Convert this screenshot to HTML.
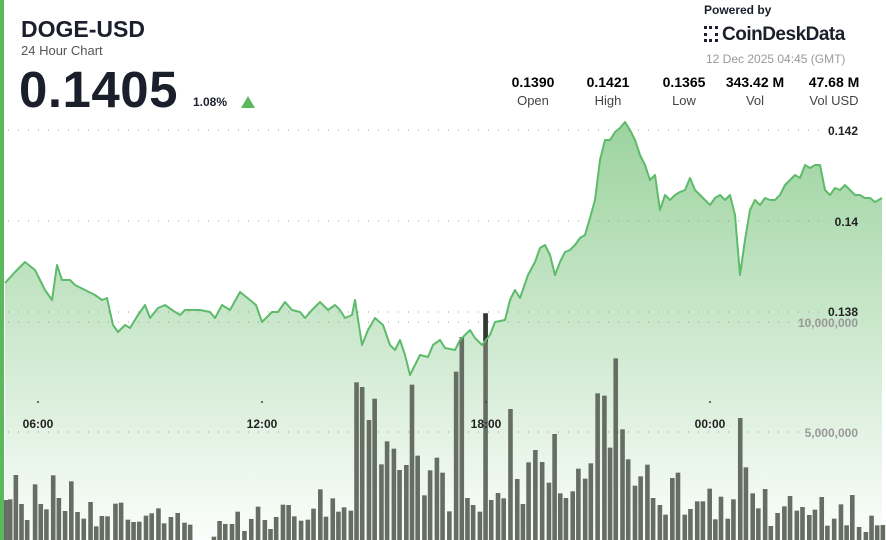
<!DOCTYPE html>
<html><head><meta charset="utf-8"><style>
body{margin:0;width:886px;height:540px;overflow:hidden;background:#fff;font-family:"Liberation Sans",sans-serif;position:relative}
.t{position:absolute;white-space:nowrap;color:#1a1f2b}
.s{text-align:center;position:absolute;width:60px}
</style></head><body>
<svg id="c" width="886" height="540" style="position:absolute;left:0;top:0"></svg>
<div style="position:absolute;left:0;top:0;width:4px;height:540px;background:#5cb85c"></div>
<div class="t" style="left:21px;top:16px;font-size:23px;font-weight:bold">DOGE-USD</div>
<div class="t" style="left:21px;top:43px;font-size:13px;color:#555">24 Hour Chart</div>
<div class="t" style="left:19px;top:60px;font-size:51px;font-weight:bold;letter-spacing:0.5px">0.1405</div>
<div class="t" style="left:193px;top:95px;font-size:12px;font-weight:bold">1.08%</div>
<div style="position:absolute;left:241px;top:96px;width:0;height:0;border-left:7px solid transparent;border-right:7px solid transparent;border-bottom:12px solid #5cb85c"></div>
<div class="t" style="left:704px;top:3px;font-size:12px;font-weight:bold">Powered by</div>
<div class="t" style="left:704px;top:24px;font-size:19px;font-weight:bold;letter-spacing:-0.5px"><span style="display:inline-block;width:14px;height:16px;border:3px dotted #1a1f2b;box-sizing:border-box;margin-right:4px;vertical-align:-2px"></span>CoinDeskData</div>
<div class="t" style="left:706px;top:52px;font-size:12px;color:#999">12 Dec 2025 04:45 (GMT)</div>
<div class="s" style="left:503px;top:74px"><div style="font-size:14px;font-weight:bold">0.1390</div><div style="font-size:13px;color:#444;margin-top:3px">Open</div></div>
<div class="s" style="left:578px;top:74px"><div style="font-size:14px;font-weight:bold">0.1421</div><div style="font-size:13px;color:#444;margin-top:3px">High</div></div>
<div class="s" style="left:654px;top:74px"><div style="font-size:14px;font-weight:bold">0.1365</div><div style="font-size:13px;color:#444;margin-top:3px">Low</div></div>
<div class="s" style="left:715px;top:74px;width:80px"><div style="font-size:14px;font-weight:bold">343.42 M</div><div style="font-size:13px;color:#444;margin-top:3px">Vol</div></div>
<div class="s" style="left:794px;top:74px;width:80px"><div style="font-size:14px;font-weight:bold">47.68 M</div><div style="font-size:13px;color:#444;margin-top:3px">Vol USD</div></div>
<script>
var ns="http://www.w3.org/2000/svg",svg=document.getElementById('c');
function el(n,a,p){var e=document.createElementNS(ns,n);for(var k in a)e.setAttribute(k,a[k]);(p||svg).appendChild(e);return e;}
var defs=el('defs',{});
var g=el('linearGradient',{id:'g',x1:0,y1:0,x2:0,y2:1},defs);
el('stop',{offset:'0','stop-color':'#4caf50','stop-opacity':'0.55'},g);
el('stop',{offset:'1','stop-color':'#4caf50','stop-opacity':'0.02'},g);
var pts=[5,283,15,272,25,262,35,270,45,290,52,300,57,265,62,280,70,280,75,285,85,290,95,295,102,300,107,298,113,325,118,332,125,325,130,328,138,315,145,305,150,318,158,308,165,305,172,310,180,315,185,310,200,310,210,312,215,318,222,305,230,310,240,292,250,300,256,305,262,322,272,312,278,312,285,302,292,310,300,312,305,318,312,310,320,302,328,310,335,305,340,310,345,318,352,315,355,300,362,345,368,330,375,318,383,325,390,345,395,350,400,340,405,355,410,375,415,365,420,355,428,357,433,345,440,340,445,348,455,350,460,340,465,335,470,330,475,338,482,345,490,335,495,322,505,320,510,300,515,290,520,298,528,275,535,262,540,248,545,245,550,255,555,275,560,262,565,252,570,250,575,245,580,238,585,235,590,218,595,200,600,160,605,140,610,140,615,132,620,128,625,122,630,130,635,140,640,155,645,165,650,180,655,175,660,210,665,195,670,200,675,195,680,192,685,190,690,178,695,190,700,195,705,200,710,205,715,198,720,195,725,200,730,195,735,215,740,275,745,240,750,210,755,200,760,205,765,198,770,200,775,200,780,195,785,185,790,180,795,175,800,178,805,165,810,168,815,165,820,165,825,190,830,195,835,188,840,190,845,185,850,190,855,195,860,195,865,198,870,198,875,202,882,198];
var d='';for(var i=0;i<pts.length;i+=2)d+=(i?'L':'M')+pts[i]+','+pts[i+1];
el('path',{d:d+'L882,540L5,540Z',fill:'url(#g)'});
[130,221,312,322,432].forEach(function(y){el('line',{x1:8,x2:820,y1:y,y2:y,stroke:'#999','stroke-width':1,'stroke-dasharray':'1 9'});});
var B=[10,750,18,748,28,675,38,762,48,810,62,703,72,762,82,778,94,676,104,744,115,783,126,694,137,786,148,806,160,756,170,829,180,798,190,799,204,761,214,758,226,809,236,816,246,815,258,797,268,790,280,775,290,820,302,801,314,789,326,818,336,824,378,860,388,813,398,822,410,822,420,785,432,843,444,807,456,770,468,810,478,837,488,801,500,764,510,765,520,799,532,812,544,809,554,776,566,718,576,800,588,745,598,785,608,772,620,782,630,397,640,411,652,510,662,446,674,643,684,574,696,596,706,660,718,645,728,404,738,617,750,736,760,661,772,623,782,668,794,784,806,365,816,261,826,744,836,765,848,785,858,190,868,750,880,729,890,745,902,477,914,687,924,762,934,637,946,600,958,636,970,698,980,552,990,730,1000,744,1012,724,1022,656,1034,686,1044,640,1056,430,1068,437,1078,593,1088,325,1100,538,1110,628,1122,707,1132,679,1144,644,1154,744,1166,765,1176,794,1188,684,1198,668,1210,794,1220,777,1232,754,1242,754,1254,716,1264,808,1274,740,1286,806,1296,748,1308,504,1318,652,1330,730,1340,775,1352,717,1362,828,1374,789,1386,769,1396,738,1408,782,1418,771,1430,795,1440,779,1452,741,1462,827,1474,806,1486,763,1496,826,1506,735,1518,831,1530,846,1540,797,1550,826,1560,825];
for(var i=0;i<B.length;i+=2){var x=B[i]/1.767,y=250+B[i+1]/3;el('rect',{x:x-2.3,y:y,width:4.6,height:540-y,fill:'#666d62'});if(B[i]==858)el('rect',{x:x-2.3,y:y,width:4.6,height:28,fill:'#333833'});}
el('path',{d:d,fill:'none',stroke:'#5dbb6b','stroke-width':2,'stroke-linejoin':'round'});
function tx(x,y,s,o){var t=el('text',Object.assign({x:x,y:y,'font-size':12,'font-weight':'bold',fill:'#222','font-family':'Liberation Sans'},o||{}));t.textContent=s;}
tx(858,135,'0.142',{'text-anchor':'end'});tx(858,226,'0.14',{'text-anchor':'end'});tx(858,316,'0.138',{'text-anchor':'end'});
tx(858,327,'10,000,000',{'text-anchor':'end',fill:'#999'});tx(858,437,'5,000,000',{'text-anchor':'end',fill:'#999'});
[[38,'06:00'],[262,'12:00'],[486,'18:00'],[710,'00:00']].forEach(function(a){tx(a[0],428,a[1],{'text-anchor':'middle'});el('circle',{cx:a[0],cy:402,r:1,fill:'#444'});});
</script>
</body></html>
